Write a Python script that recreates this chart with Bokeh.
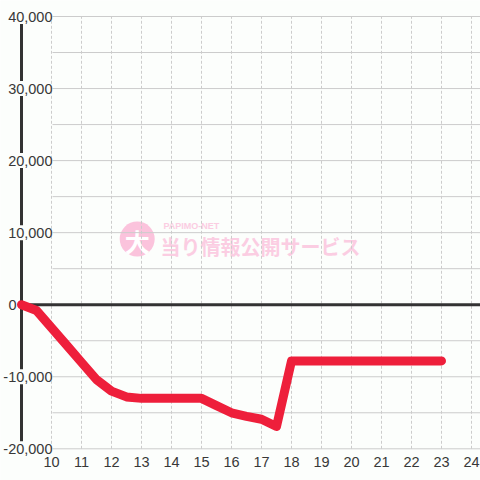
from bokeh.plotting import figure
from bokeh.models import Range1d
from bokeh.core.properties import value
from bokeh.embed import file_html
from bokeh.resources import INLINE

# ---- data ----
hours = [9, 9.5, 10, 10.5, 11, 11.5, 12, 12.5, 13, 13.5, 14, 14.5, 15, 15.5,
         16, 16.5, 17, 17.5, 18, 18.5, 19, 19.5, 20, 20.5, 21, 21.5, 22, 22.5, 23]
balance = [0, -800, -3200, -5600, -8000, -10400, -12000, -12800, -13000, -13000,
           -13000, -13000, -13000, -14000, -15000, -15500, -15900, -16900,
           -7800, -7800, -7800, -7800, -7800, -7800, -7800, -7800, -7800, -7800, -7800]
x_ticks = list(range(10, 25))
x_tick_labels = [str(t) for t in x_ticks]
y_ticks = [40000, 30000, 20000, 10000, 0, -10000, -20000]
y_tick_labels = ["40,000", "30,000", "20,000", "10,000", "0", "-10,000", "-20,000"]
y_grid = list(range(-20000, 40001, 5000))

W = H = 480
PX_X = 30.0      # px per hour
PX_Y = 7.205     # px per 1000
x0 = 9 - 21 / PX_X
x1 = x0 + W / PX_X
y1 = 40000 + 16 / PX_Y * 1000
y0 = y1 - H / PX_Y * 1000

def dx(px):  # canvas px -> data x
    return x0 + px / PX_X

def dy(py):  # canvas py -> data y
    return y1 - py / PX_Y * 1000

BG = "#fcfefc"
p = figure(width=W, height=H, output_backend="svg", toolbar_location=None,
           x_range=Range1d(x0, x1), y_range=Range1d(y0, y1),
           x_axis_location=None, y_axis_location=None, min_border=0,
           background_fill_color=BG, border_fill_color=BG)
p.outline_line_color = None
p.grid.visible = False

# watermark
p.scatter(x=[dx(136.7)], y=[dy(238.5)], size=35, marker="circle",
          fill_color="#fbc3dc", line_color=None)
p.text(x=[dx(136.7)], y=[dy(240)], text=["大"], text_font=value("Noto Sans CJK JP"),
       text_font_style="bold", text_font_size="25px", text_color="white",
       text_align="center", text_baseline="middle")
p.text(x=[dx(160)], y=[dy(246)], text=["当り情報公開サービス"],
       text_font=value("Noto Sans CJK JP"), text_font_style="bold",
       text_font_size="20px", text_color="#fbcde2",
       text_align="left", text_baseline="middle")
p.text(x=[dx(163)], y=[dy(225)], text=["PAPIMO-NET"],
       text_font=value("Liberation Sans"), text_font_style="bold",
       text_font_size="9px", text_color="#fbcde2",
       text_align="left", text_baseline="middle")

# grid
p.segment(x0=[dx(52)] * len(y_grid), y0=y_grid, x1=[x1] * len(y_grid), y1=y_grid,
          line_color="#cccccc", line_width=1)
p.segment(x0=x_ticks, y0=[-20000] * len(x_ticks), x1=x_ticks, y1=[40000] * len(x_ticks),
          line_color="#cccccc", line_width=1, line_dash="3 2")

# axis lines
p.segment(x0=[9], y0=[-20000], x1=[9], y1=[40000], line_color="#333333", line_width=3)
p.segment(x0=[9], y0=[0], x1=[x1], y1=[0], line_color="#333333", line_width=3)

# label masks over the axis line
mask_y = [t for t in y_ticks if t != 0]
p.rect(x=[9] * len(mask_y), y=mask_y, width=8, height=15,
       width_units="screen", height_units="screen",
       fill_color=BG, line_color=None)

# y labels
y_offsets = [31 if t != 0 else -5 for t in y_ticks]
p.text(x=[9] * len(y_ticks), y=y_ticks, text=y_tick_labels, x_offset=y_offsets,
       text_font=value("Liberation Sans"), text_font_size="14.5px", text_color="#383838",
       text_align="right", text_baseline="middle")

# x labels
p.text(x=x_ticks, y=[-20000] * len(x_ticks), text=x_tick_labels, y_offset=13,
       text_font=value("Liberation Sans"), text_font_size="14.5px", text_color="#383838",
       text_align="center", text_baseline="middle")

# data line
p.line(hours, balance, line_color="#ee1f3b", line_width=9,
       line_cap="round", line_join="round")

open("out.html", "w").write(file_html(p, INLINE))
